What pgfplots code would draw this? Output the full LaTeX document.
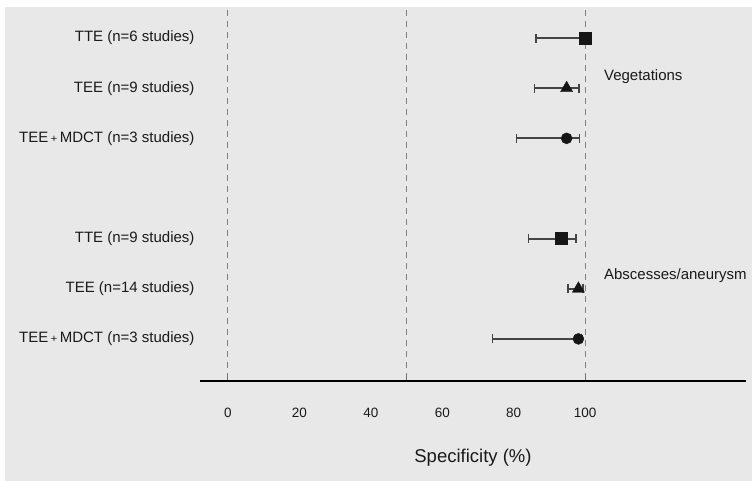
\documentclass[border=0pt]{standalone}
\usepackage{pgfplots}
\pgfplotsset{compat=1.18}
\usepackage{fontspec}
\setmainfont{Liberation Sans}
\definecolor{bg}{HTML}{E8E8E8}
\definecolor{txt}{HTML}{1A1A1A}
\definecolor{bar}{HTML}{444444}
\definecolor{mk}{HTML}{151515}
\definecolor{tk}{HTML}{707070}
\newcommand{\pl}{\,{\fontsize{11}{11}\selectfont+}\,}
\begin{document}
\begin{tikzpicture}
\path[use as bounding box] (-200pt,-100pt) rectangle (552pt,381pt);
\fill[bg] (-195pt,-100pt) rectangle (552pt,374pt);
\begin{axis}[
  scale only axis,
  width=546pt, height=371pt,
  xmin=-7.8, xmax=145,
  ymin=0.44, ymax=7.84,
  y dir=reverse,
  axis on top,
  axis x line*=bottom,
  axis y line*=left,
  y axis line style={draw=none},
  x axis line style={line width=1.2pt, black, -},
  xtick={0,50,100},
  xticklabels={0,,100},
  extra x ticks={20,40,60,80},
  extra x tick style={major tick style={draw=none}},
  major tick length=7pt,
  tick align=inside,
  major tick style={draw=tk, line width=1.1pt},
  /pgf/number format/assume math mode=true,
  xticklabel style={anchor=center, yshift=-32pt, font=\fontsize{13.5}{15}\selectfont, text=txt},
  ytick={1,2,3,5,6,7},
  yticklabels={TTE (n=6 studies), TEE (n=9 studies), TEE\pl MDCT (n=3 studies), TTE (n=9 studies), TEE (n=14 studies), TEE\pl MDCT (n=3 studies)},
  yticklabel style={font=\fontsize{15}{17}\selectfont, text=txt, xshift=-2pt},
  ytick style={draw=none},
  xlabel={Specificity (\%)},
  xlabel style={at={(axis description cs:0.5,0)}, anchor=center, yshift=-77pt, font=\fontsize{18.5}{20}\selectfont, text=txt},
  clip=false,
]
\addplot[gray, dashed, line width=0.9pt, dash pattern=on 6pt off 5pt] coordinates {(0,0.44) (0,7.84)};
\addplot[gray, dashed, line width=0.9pt, dash pattern=on 6pt off 5pt] coordinates {(50,0.44) (50,7.84)};
\addplot[gray, dashed, line width=0.9pt, dash pattern=on 6pt off 5pt] coordinates {(100,0.44) (100,7.84)};
% squares
\addplot[only marks, mark=square*, mark size=6pt, mark options={fill=mk, draw=mk},
  error bars/.cd, x dir=both, x explicit,
  error bar style={bar, line width=1.8pt},
  error mark options={bar, line width=1.6pt, mark size=4.5pt, rotate=90}]
  table[x=x, y=y, x error plus=ep, x error minus=em] {
x y ep em
100 1 0 13.7
93.4 5 4.1 9.3
};
% triangles
\addplot[only marks, mark=triangle*, mark size=7pt, mark options={fill=mk, draw=mk},
  error bars/.cd, x dir=both, x explicit,
  error bar style={bar, line width=1.8pt},
  error mark options={bar, line width=1.6pt, mark size=4.5pt, rotate=90}]
  table[x=x, y=y, x error plus=ep, x error minus=em] {
x y ep em
94.8 2 3.5 9.0
98.1 6 1.2 2.9
};
% circles
\addplot[only marks, mark=*, mark size=5.5pt, mark options={fill=mk, draw=mk},
  error bars/.cd, x dir=both, x explicit,
  error bar style={bar, line width=1.8pt},
  error mark options={bar, line width=1.6pt, mark size=4.5pt, rotate=90}]
  table[x=x, y=y, x error plus=ep, x error minus=em] {
x y ep em
94.8 3 3.6 14.0
98.1 7 0.9 24.0
};
\node[anchor=west, font=\fontsize{15}{17}\selectfont, text=txt] at (axis cs:104.3,1.76) {Vegetations};
\node[anchor=west, font=\fontsize{15}{17}\selectfont, text=txt] at (axis cs:104.3,5.74) {Abscesses/aneurysm};
\end{axis}
\end{tikzpicture}
\end{document}
